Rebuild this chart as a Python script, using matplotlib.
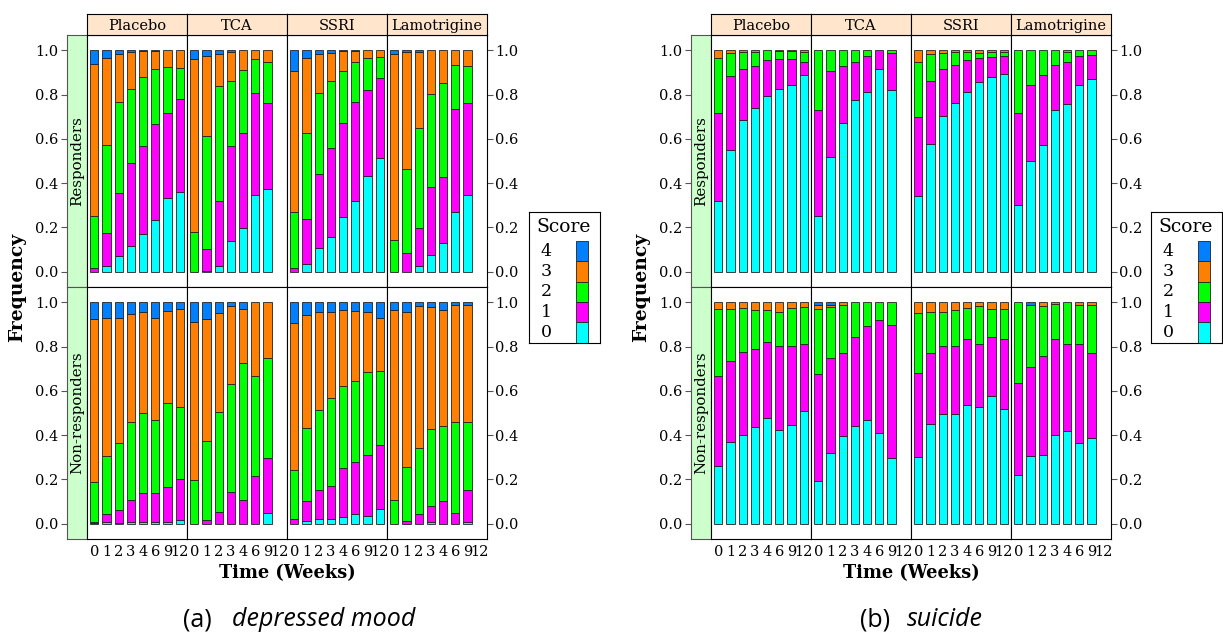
import numpy as np
import matplotlib
matplotlib.use("Agg")
import matplotlib.pyplot as plt

# Lattice-style stacked bar charts: score frequency by week, treatment and response group
W, H = 1223, 640

weeks = ['0', '1', '2', '3', '4', '6', '9', '12']
treatments = ['Placebo', 'TCA', 'SSRI', 'Lamotrigine']
groups = ['Responders', 'Non-responders']
scores = ['0', '1', '2', '3', '4']
score_colors = ['#00FFFF', '#FF00FF', '#00FF00', '#FF7F00', '#0080FF']

# cumulative upper edge of scores 0,1,2,3 per week (score 4 fills up to 1.0)
mood_resp_placebo = [[0.000, 0.018, 0.249, 0.938], [0.023, 0.173, 0.572, 0.965],
                     [0.068, 0.357, 0.766, 0.983], [0.116, 0.490, 0.825, 0.995],
                     [0.172, 0.569, 0.879, 0.997], [0.231, 0.668, 0.916, 0.997],
                     [0.333, 0.715, 0.923, 1.000], [0.362, 0.780, 0.919, 1.000]]
mood_resp_tca = [[0.000, 0.000, 0.178, 0.962], [0.004, 0.101, 0.611, 0.973],
                 [0.026, 0.321, 0.839, 0.983], [0.137, 0.569, 0.861, 0.992],
                 [0.196, 0.626, 0.911, 1.000], [0.347, 0.807, 0.961, 1.000],
                 [0.373, 0.762, 0.946, 1.000]]
mood_resp_ssri = [[0.000, 0.015, 0.271, 0.905], [0.033, 0.237, 0.626, 0.964],
                  [0.106, 0.442, 0.807, 0.983], [0.158, 0.558, 0.864, 0.988],
                  [0.246, 0.670, 0.909, 0.997], [0.320, 0.768, 0.947, 0.998],
                  [0.434, 0.822, 0.964, 1.000], [0.513, 0.875, 0.970, 1.000]]
mood_resp_lamo = [[0.000, 0.000, 0.143, 0.983], [0.000, 0.086, 0.463, 0.992],
                  [0.027, 0.196, 0.649, 0.991], [0.075, 0.382, 0.804, 1.000],
                  [0.128, 0.427, 0.855, 1.000], [0.268, 0.736, 0.935, 1.000],
                  [0.345, 0.762, 0.928, 1.000]]
mood_non_placebo = [[0.003, 0.008, 0.188, 0.926], [0.006, 0.041, 0.304, 0.928],
                    [0.002, 0.060, 0.364, 0.932], [0.008, 0.108, 0.458, 0.949],
                    [0.008, 0.136, 0.500, 0.958], [0.008, 0.139, 0.470, 0.929],
                    [0.008, 0.166, 0.545, 0.962], [0.018, 0.203, 0.527, 0.970]]
mood_non_tca = [[0.000, 0.000, 0.199, 0.910], [0.000, 0.018, 0.373, 0.925],
                [0.000, 0.053, 0.503, 0.952], [0.000, 0.143, 0.631, 0.986],
                [0.000, 0.107, 0.726, 0.970], [0.000, 0.214, 0.666, 1.000],
                [0.048, 0.298, 0.749, 1.000]]
mood_non_ssri = [[0.000, 0.021, 0.241, 0.907], [0.011, 0.101, 0.434, 0.943],
                 [0.021, 0.151, 0.512, 0.955], [0.021, 0.169, 0.568, 0.958],
                 [0.030, 0.252, 0.620, 0.964], [0.044, 0.279, 0.643, 0.962],
                 [0.036, 0.309, 0.684, 0.955], [0.066, 0.355, 0.690, 0.932]]
mood_non_lamo = [[0.000, 0.000, 0.105, 0.964], [0.000, 0.012, 0.255, 0.959],
                 [0.000, 0.041, 0.340, 0.985], [0.008, 0.081, 0.428, 0.979],
                 [0.000, 0.101, 0.443, 0.967], [0.000, 0.048, 0.459, 0.989],
                 [0.006, 0.151, 0.459, 0.989]]

suic_resp_placebo = [[0.317, 0.716, 0.968, 1.000], [0.548, 0.885, 0.988, 1.000],
                     [0.685, 0.916, 0.992, 1.000], [0.739, 0.931, 0.995, 1.000],
                     [0.796, 0.955, 1.000, 1.000], [0.825, 0.962, 0.997, 1.000],
                     [0.842, 0.961, 0.997, 1.000], [0.887, 0.947, 0.992, 1.000]]
suic_resp_tca = [[0.253, 0.732, 1.000, 1.000], [0.517, 0.908, 1.000, 1.000],
                 [0.671, 0.932, 1.000, 1.000], [0.777, 0.949, 1.000, 1.000],
                 [0.813, 0.977, 1.000, 1.000], [0.916, 1.000, 1.000, 1.000],
                 [0.821, 0.988, 1.000, 1.000]]
suic_resp_ssri = [[0.341, 0.698, 0.947, 1.000], [0.575, 0.860, 0.983, 1.000],
                  [0.704, 0.916, 0.988, 1.000], [0.762, 0.934, 0.991, 1.000],
                  [0.811, 0.956, 0.991, 1.000], [0.859, 0.965, 0.988, 1.000],
                  [0.878, 0.971, 0.995, 1.000], [0.894, 0.973, 0.995, 1.000]]
suic_resp_lamo = [[0.302, 0.716, 1.000, 1.000], [0.498, 0.843, 1.000, 1.000],
                  [0.573, 0.888, 1.000, 1.000], [0.732, 0.935, 1.000, 1.000],
                  [0.756, 0.950, 0.992, 1.000], [0.846, 0.973, 1.000, 1.000],
                  [0.870, 0.979, 1.000, 1.000]]
suic_non_placebo = [[0.259, 0.666, 0.970, 1.000], [0.367, 0.736, 0.970, 1.000],
                    [0.401, 0.776, 0.974, 1.000], [0.437, 0.789, 0.967, 1.000],
                    [0.477, 0.819, 0.964, 1.000], [0.423, 0.801, 0.958, 1.000],
                    [0.444, 0.803, 0.974, 1.000], [0.508, 0.813, 0.979, 1.000]]
suic_non_tca = [[0.194, 0.676, 0.970, 0.989], [0.318, 0.748, 0.979, 0.989],
                [0.395, 0.771, 0.989, 1.000], [0.443, 0.843, 1.000, 1.000],
                [0.467, 0.892, 1.000, 1.000], [0.410, 0.919, 1.000, 1.000],
                [0.297, 0.899, 1.000, 1.000]]
suic_non_ssri = [[0.303, 0.679, 0.952, 1.000], [0.450, 0.771, 0.958, 1.000],
                 [0.497, 0.803, 0.959, 1.000], [0.497, 0.803, 0.967, 1.000],
                 [0.536, 0.837, 0.977, 1.000], [0.527, 0.812, 0.983, 1.000],
                 [0.575, 0.846, 0.970, 1.000], [0.517, 0.836, 0.970, 1.000]]
suic_non_lamo = [[0.220, 0.636, 1.000, 1.000], [0.304, 0.708, 0.988, 0.988],
                 [0.309, 0.759, 0.986, 1.000], [0.401, 0.834, 0.992, 1.000],
                 [0.417, 0.813, 1.000, 1.000], [0.366, 0.812, 0.989, 1.000],
                 [0.386, 0.771, 0.989, 1.000]]

mood = [[mood_resp_placebo, mood_resp_tca, mood_resp_ssri, mood_resp_lamo],
        [mood_non_placebo, mood_non_tca, mood_non_ssri, mood_non_lamo]]
suic = [[suic_resp_placebo, suic_resp_tca, suic_resp_ssri, suic_resp_lamo],
        [suic_non_placebo, suic_non_tca, suic_non_ssri, suic_non_lamo]]

plt.rcParams['font.family'] = 'DejaVu Serif'
fig = plt.figure(figsize=(W / 100, H / 100), dpi=100)


def box(x0, y0, x1, y1):
    return [x0 / W, 1 - y1 / H, (x1 - x0) / W, (y1 - y0) / H]


YLIM = (-0.07, 1.07)
XLIM = (-0.6, 7.6)
yt = [0, 0.2, 0.4, 0.6, 0.8, 1.0]
ytl = ['0.0', '0.2', '0.4', '0.6', '0.8', '1.0']
TICK_FS = 10.5


def draw_block(data, left, caption_tag, caption_text, cap_x0, cap_x1, leg_x):
    col_w = 100
    strip_w = 20
    top, strip_h = 14, 21
    row_h = 252
    px0 = left + strip_w
    right = px0 + 4 * col_w
    for r in range(2):
        y0 = top + strip_h + r * row_h
        # left strip with the group name and the y axis
        sax = fig.add_axes(box(left, y0, px0, y0 + row_h))
        sax.set_facecolor('#CCFFCC')
        sax.set_xlim(0, 1)
        sax.set_ylim(*YLIM)
        sax.set_xticks([])
        sax.set_yticks(yt)
        sax.set_yticklabels(ytl, fontsize=TICK_FS)
        sax.tick_params(axis='y', length=4, color='#555555', pad=2)
        for s in sax.spines.values():
            s.set_color('#555555')
            s.set_linewidth(0.8)
        sax.text(0.5, 0.5, groups[r], transform=sax.transAxes, rotation=90,
                 ha='center', va='center', fontsize=10.8)
        for c in range(4):
            x0 = px0 + c * col_w
            ax = fig.add_axes(box(x0, y0, x0 + col_w, y0 + row_h))
            cum = np.array(data[r][c])
            n = len(cum)
            full = np.column_stack([np.zeros(n), cum, np.ones(n)])
            props = np.diff(full, axis=1)
            bottoms = full[:, :-1]
            xs = np.arange(n)
            for k in range(5):
                keep = props[:, k] > 1e-6
                ax.bar(xs[keep], props[keep, k], bottom=bottoms[keep, k], width=0.667,
                       color=score_colors[k], edgecolor='#222222', linewidth=0.6)
            ax.set_xlim(*XLIM)
            ax.set_ylim(*YLIM)
            ax.set_yticks([])
            if r == 1:
                ax.set_xticks(range(len(weeks)))
                ax.set_xticklabels(weeks, fontsize=TICK_FS)
                ax.tick_params(axis='x', length=0, pad=4)
            else:
                ax.set_xticks([])
            if c == 3:
                ax.yaxis.tick_right()
                ax.set_yticks(yt)
                ax.set_yticklabels(ytl, fontsize=TICK_FS)
                ax.tick_params(axis='y', length=4, color='#555555', pad=2)
            for s in ax.spines.values():
                s.set_linewidth(0.8)
            if r == 0:
                tax = fig.add_axes(box(x0, top, x0 + col_w, top + strip_h))
                tax.set_facecolor('#FFE5CC')
                tax.set_xticks([])
                tax.set_yticks([])
                for s in tax.spines.values():
                    s.set_linewidth(0.8)
                tax.text(0.5, 0.45, treatments[c], transform=tax.transAxes,
                         ha='center', va='center', fontsize=10.5)
    mid_y = top + strip_h + row_h
    fig.text((left - 50) / W, 1 - mid_y / H, 'Frequency', rotation=90,
             ha='center', va='center', fontsize=13.5, fontweight='bold')
    fig.text((px0 + right) / 2 / W, 1 - 573 / H, 'Time (Weeks)',
             ha='center', va='center', fontsize=12.8, fontweight='bold')

    # legend box
    lx0, ly0, lx1, ly1 = leg_x, 212, leg_x + 71, 343
    lax = fig.add_axes(box(lx0, ly0, lx1, ly1))
    lax.set_xlim(0, 71)
    lax.set_ylim(131, 0)
    lax.set_xticks([])
    lax.set_yticks([])
    for s in lax.spines.values():
        s.set_linewidth(0.8)
    lax.text(35, 15, 'Score', ha='center', va='center', fontsize=13.5)
    sw_h = 20.3
    for i, lab in enumerate(['4', '3', '2', '1', '0']):
        k = 4 - i
        yy = 29 + i * sw_h
        lax.bar(53, sw_h, bottom=yy, width=12, color=score_colors[k],
                edgecolor='#222222', linewidth=0.6)
        lax.text(17, yy + sw_h / 2, lab, ha='center', va='center', fontsize=12.5)

    # caption
    fig.text(cap_x0 / W, 1 - 620 / H, caption_tag, ha='left', va='center',
             fontsize=18, family='Open Sans')
    fig.text(cap_x1 / W, 1 - 620 / H, caption_text, ha='right', va='center',
             fontsize=18, family='Open Sans', style='italic')


draw_block(mood, 67, '(a)', 'depressed mood', 183, 415, 529)
draw_block(suic, 691, '(b)', 'suicide', 860, 983, 1151)

fig.savefig('out.png', dpi=100)
